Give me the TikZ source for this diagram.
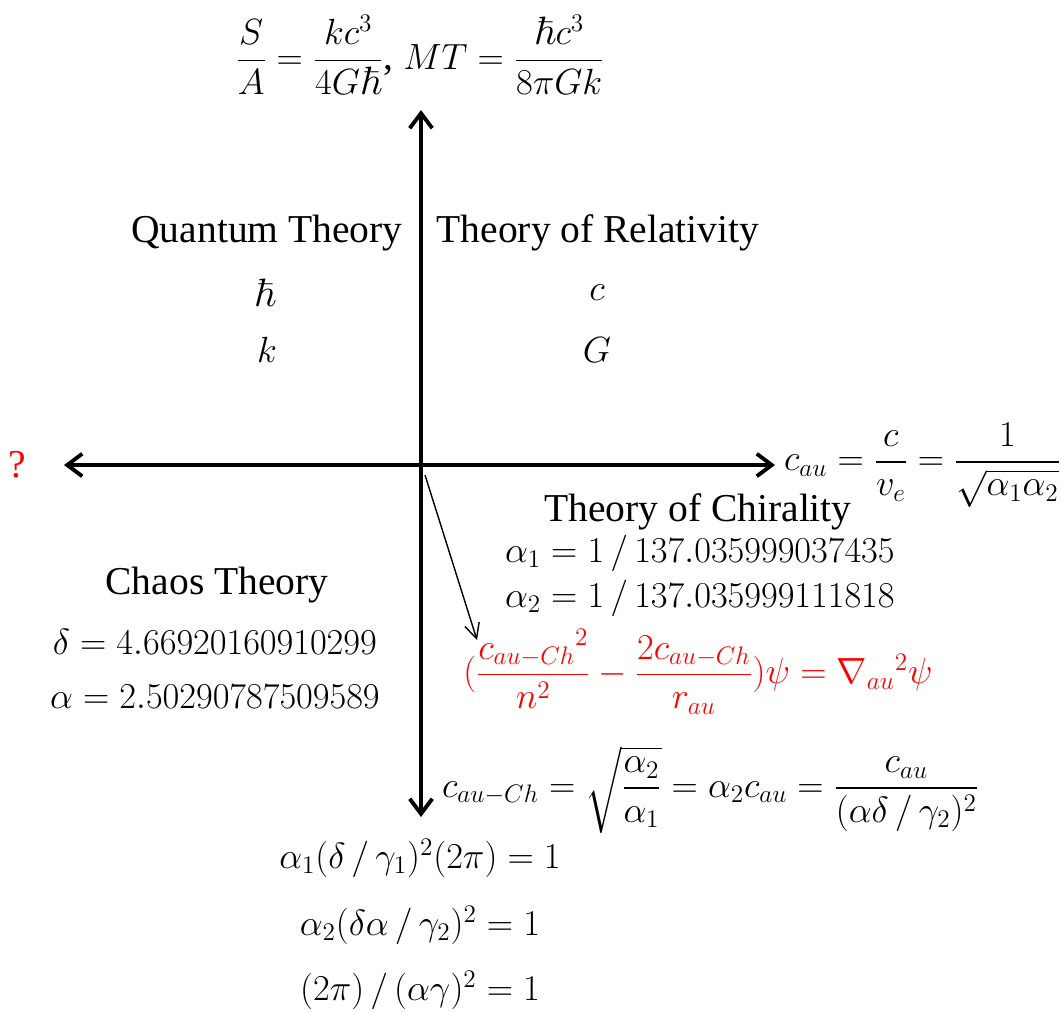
\documentclass[tikz,border=0pt]{standalone}
\usepackage{amsmath}
\usepackage{amssymb}
\usepackage[no-math]{fontspec}
\setmainfont{Liberation Serif}
\usepackage{tikz}
\usetikzlibrary{arrows.meta,positioning}

\begin{document}
\begin{tikzpicture}[x=0.02cm, y=-0.02cm, >=Stealth,
  big/.style={font=\fontsize{22.5}{27}\selectfont, inner sep=1pt},
  eq/.style={font=\fontsize{22.5}{27}\selectfont, inner sep=1pt},
  small eq/.style={font=\fontsize{20.5}{25}\selectfont, inner sep=1pt},
  axis/.style={line width=2.2pt, -{Straight Barb[length=3mm,width=4.5mm,line width=2.2pt]}},
  thin/.style={line width=0.8pt, -{Straight Barb[length=3mm,width=3mm]}}
]
\useasboundingbox (0,0) rectangle (1062,1012);
% axes
\coordinate (O)  at (421,465);
\coordinate (up) at (421,110);
\coordinate (dn) at (421,817);
\coordinate (lf) at (64,465);
\coordinate (rt) at (775,465);
\draw[axis] (O) -- (up);
\draw[axis] (O) -- (dn);
\draw[axis] (O) -- (lf);
\draw[axis] (O) -- (rt);
% top: black hole relations
\node[eq] (bh) at (420,55) {$\dfrac{S}{A}=\dfrac{kc^3}{4G\hbar}$, $MT=\dfrac{\hbar c^3}{8\pi Gk}$};
% quantum / relativity
\node[big] (qt) at (267,233) {Quantum Theory};
\node[big] (rel) at (598,233) {Theory of Relativity};
\node[big] (hb) at (265,293) {$\hbar$};
\node[big] (cc) at (597,293) {$c$};
\node[big] (kk) at (267,350) {$k$};
\node[big] (GG) at (597,350) {$G$};
% left end
\node[big, text=red] (qm) at (17,465) {?};
% right end
\node[eq, anchor=west] (cau) at (782,465) {$c_{au}=\dfrac{c}{v_e}=\dfrac{1}{\sqrt{\alpha_1\alpha_2}}$};
% chirality
\node[big] (chir) at (698,512) {Theory of Chirality};
\node[eq] (a1) at (700,553) {$\alpha_1=1\,/\,137.035999037435$};
\node[eq] (a2) at (700,598) {$\alpha_2=1\,/\,137.035999111818$};
\node[small eq, text=red] (wave) at (698,672) {$(\dfrac{{c_{au-Ch}}^2}{n^2}-\dfrac{2c_{au-Ch}}{r_{au}})\psi=\nabla_{au}{}^2\psi$};
\coordinate (tip) at (477,640);
\draw[thin] (425,475) -- (tip);
% chaos
\node[big] (chaos) at (217,585) {Chaos Theory};
\node[eq] (dl) at (215,642) {$\delta=4.66920160910299$};
\node[eq] (al) at (215,697) {$\alpha=2.50290787509589$};
% speed
\node[small eq, anchor=west] (cch) at (440,790) {$c_{au-Ch}=\sqrt{\dfrac{\alpha_2}{\alpha_1}}=\alpha_2c_{au}=\dfrac{c_{au}}{(\alpha\delta\,/\,\gamma_2)^2}$};
% bottom relations
\node[eq] (r1) at (420,858) {$\alpha_1(\delta\,/\,\gamma_1)^2(2\pi)=1$};
\node[eq] (r2) at (420,925) {$\alpha_2(\delta\alpha\,/\,\gamma_2)^2=1$};
\node[eq] (r3) at (420,990) {$(2\pi)\,/\,(\alpha\gamma)^2=1$};
\end{tikzpicture}
\end{document}
